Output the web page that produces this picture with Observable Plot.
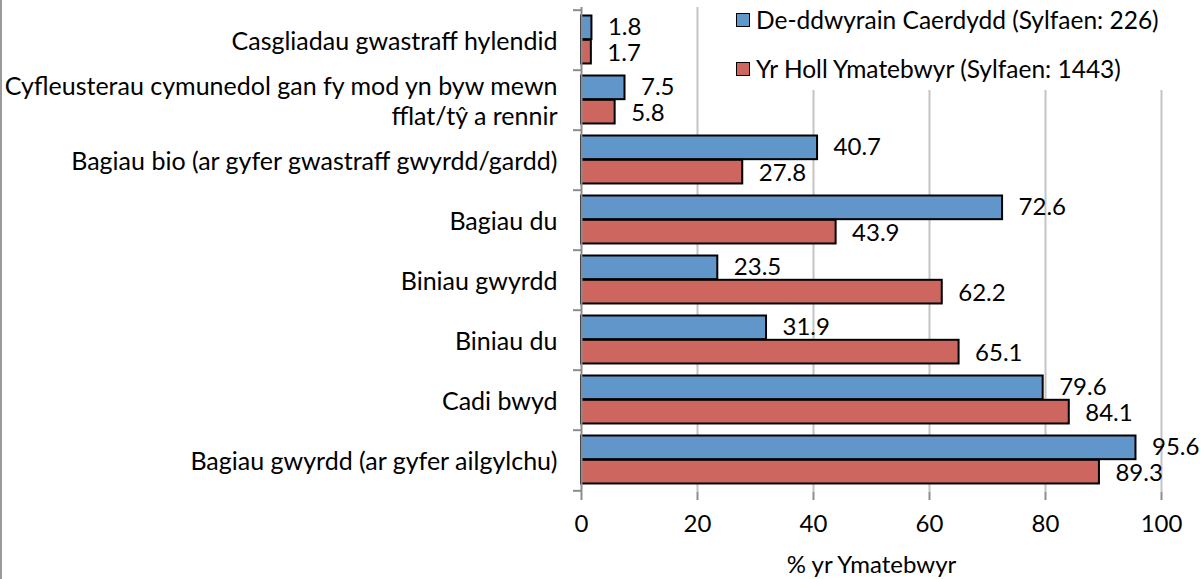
<!DOCTYPE html>
<html>
<head>
<meta charset="utf-8">
<script src="https://cdn.jsdelivr.net/npm/d3@7"></script>
<script src="https://cdn.jsdelivr.net/npm/@observablehq/plot@0.6"></script>
<style>
  html, body { margin: 0; padding: 0; background: #fff; }
  #wrap { position: relative; width: 1203px; height: 579px; overflow: hidden; font-family: Lato, "Open Sans", sans-serif; }
  #wrap::before { content: ""; position: absolute; left: 0; top: 0; bottom: 0; width: 2px; background: #9a9a9a; z-index: 2; }
  #legend { position: absolute; left: 728px; top: 0; width: 440px; height: 90px; background: #fff; font-size: 24.5px; color: #000; }
  .li { position: absolute; left: 8px; display: flex; align-items: center; white-space: nowrap; }
  .sw { width: 12px; height: 12px; border: 1.5px solid #000; margin-right: 6px; }
  svg text { font-family: Lato, "Open Sans", sans-serif; }
</style>
</head>
<body>
<div id="wrap"><div id="legend"></div></div>
<script>
const categories = [
  "Casgliadau gwastraff hylendid",
  "Cyfleusterau cymunedol gan fy mod yn byw mewn\nfflat/tŷ a rennir",
  "Bagiau bio (ar gyfer gwastraff gwyrdd/gardd)",
  "Bagiau du",
  "Biniau gwyrdd",
  "Biniau du",
  "Cadi bwyd",
  "Bagiau gwyrdd (ar gyfer ailgylchu)"
];
const seriesNames = ["De-ddwyrain Caerdydd (Sylfaen: 226)", "Yr Holl Ymatebwyr (Sylfaen: 1443)"];
const southEast = [1.8, 7.5, 40.7, 72.6, 23.5, 31.9, 79.6, 95.6];
const allResp = [1.7, 5.8, 27.8, 43.9, 62.2, 65.1, 84.1, 89.3];
const xTicks = [0, 20, 40, 60, 80, 100];
const colors = ["#6096CA", "#CE6660"];

const dataA = categories.map((c, i) => ({cat: c, v: southEast[i]}));
const dataB = categories.map((c, i) => ({cat: c, v: allResp[i]}));

const W = 1203, H = 579, mt = 7, mb = 87, ml = 581, mr = 42;
const bw = (H - mt - mb) / categories.length;
const barH = 24.3, gapTop = 5.5;
const FS = 24;

const chart = Plot.plot({
  width: W, height: H,
  marginTop: mt, marginBottom: mb, marginLeft: ml, marginRight: mr,
  style: {fontSize: FS + "px", background: "transparent", color: "#000"},
  x: {domain: [0, 100], ticks: xTicks, label: null},
  y: {domain: categories, padding: 0, label: null},
  marks: [
    Plot.gridX(xTicks.filter(d => d > 0), {stroke: "#c4c4c4", strokeWidth: 2, strokeOpacity: 1}),
    Plot.barX(dataA, {x: "v", y: "cat", fill: colors[0], stroke: "#000", strokeWidth: 2,
      insetTop: gapTop, insetBottom: bw - gapTop - barH}),
    Plot.barX(dataB, {x: "v", y: "cat", fill: colors[1], stroke: "#000", strokeWidth: 2,
      insetTop: gapTop + barH, insetBottom: bw - gapTop - 2 * barH}),
    Plot.text(dataA, {x: "v", y: "cat", text: d => d.v.toFixed(1), dx: 16, dy: -bw/2 + gapTop + barH/2 - 1, textAnchor: "start", fontSize: FS, fill: "#000"}),
    Plot.text(dataB, {x: "v", y: "cat", text: d => d.v.toFixed(1), dx: 16, dy: -bw/2 + gapTop + barH*1.5 + 1, textAnchor: "start", fontSize: FS, fill: "#000"}),
    Plot.ruleY(categories, {y: d => d, x1: 0, x2: 0, dy: -bw/2, insetLeft: -8, stroke: "#8c8c8c", strokeWidth: 2}),
    Plot.ruleY(categories.slice(-1), {y: d => d, x1: 0, x2: 0, dy: bw/2, insetLeft: -8, stroke: "#8c8c8c", strokeWidth: 2}),
    Plot.ruleX([0], {stroke: "#8c8c8c", strokeWidth: 2}),
    Plot.ruleY([0], {frameAnchor: "bottom", stroke: "#8c8c8c", strokeWidth: 2}),
    Plot.axisX({ticks: xTicks, tickSize: 8, tickPadding: 14, stroke: "#8c8c8c", strokeWidth: 2, fontSize: FS,
      label: "% yr Ymatebwyr", labelAnchor: "center", labelArrow: "none", labelOffset: 80}),
    Plot.axisY({tickSize: 0, tickPadding: 24, fontSize: 25, lineHeight: 1.2, label: null, textOverflow: null})
  ]
});
document.getElementById("wrap").prepend(chart);
chart.style.position = "absolute";
chart.style.left = "0"; chart.style.top = "0";

const leg = document.getElementById("legend");
seriesNames.forEach((n, i) => {
  const row = document.createElement("div");
  row.className = "li";
  row.style.top = (i === 0 ? 5 : 54) + "px";
  const sw = document.createElement("div");
  sw.className = "sw"; sw.style.background = colors[i];
  const t = document.createElement("span"); t.textContent = n;
  row.append(sw, t);
  leg.append(row);
});
</script>
</body>
</html>
